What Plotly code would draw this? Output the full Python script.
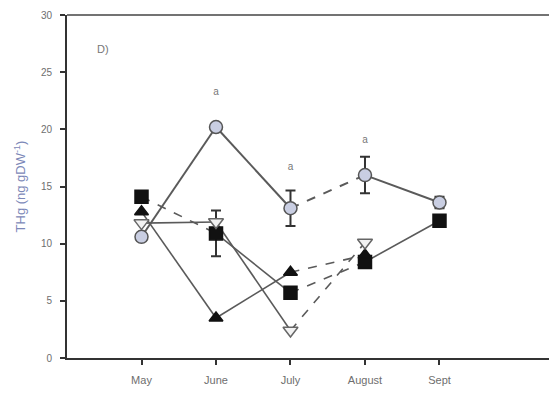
import plotly.graph_objects as go

# Sampling months and mean total mercury per treatment (ng gDW^-1)
months = ["May", "June", "July", "August", "Sept"]
month_pos = [1, 2, 3, 4, 5]

thg_square = [14.1, 10.9, 5.7, 8.4, 12.0]
thg_triangle = [12.8, 3.5, 7.5, 9.0, None]
thg_invtri = [11.8, 11.9, 2.4, 10.1, None]
thg_circle = [10.6, 20.2, 13.1, 16.0, 13.6]

err_square = [0, 2.0, 0, 0, 0]
err_circle = [0, 0, 1.55, 1.6, 0.5]

# Significance letters above the circle series
sig_pos = [2, 3, 4]
sig_y = [23.2, 16.7, 19.0]
sig_text = ["a", "a", "a"]

y_ticks = [0, 5, 10, 15, 20, 25, 30]

LINE = "#5a5a5a"
FONT = "Liberation Sans"

series = [
    dict(y=thg_square, err=err_square, symbol="square", size=13, fill="#111111",
         edge="#111111", dashes=["dash", "solid", "dash", "solid"], lw=1.6),
    dict(y=thg_triangle, err=None, symbol="triangle-up", size=12, fill="#111111",
         edge="#111111", dashes=["solid", "solid", "dash", "solid"], lw=1.6),
    dict(y=thg_invtri, err=None, symbol="triangle-down", size=13, fill="#f2f2f2",
         edge="#666666", dashes=["solid", "solid", "dash", "solid"], lw=1.6),
    dict(y=thg_circle, err=err_circle, symbol="circle", size=13, fill="#c9cee2",
         edge="#555555", dashes=["solid", "solid", "dash", "solid"], lw=2.0),
]

fig = go.Figure()

# Connecting segments (dash style changes between months)
for s in series:
    for i, d in enumerate(s["dashes"]):
        y0, y1 = s["y"][i], s["y"][i + 1]
        if y0 is None or y1 is None:
            continue
        fig.add_trace(go.Scatter(
            x=[month_pos[i], month_pos[i + 1]], y=[y0, y1], mode="lines",
            line=dict(color=LINE, width=s["lw"], dash="dash" if d == "dash" else "solid"),
            showlegend=False, hoverinfo="skip"))

# Markers with error bars
for s in series:
    xs = [p for p, v in zip(month_pos, s["y"]) if v is not None]
    ys = [v for v in s["y"] if v is not None]
    err = None
    if s["err"] is not None:
        ev = [e for e, v in zip(s["err"], s["y"]) if v is not None]
        err = dict(type="data", array=ev, visible=True, color="#333333",
                   thickness=2, width=5)
    fig.add_trace(go.Scatter(
        x=xs, y=ys, mode="markers", error_y=err,
        marker=dict(symbol=s["symbol"], size=s["size"], color=s["fill"],
                    line=dict(color=s["edge"], width=1.5)),
        showlegend=False))

fig.add_trace(go.Scatter(
    x=sig_pos, y=sig_y, mode="text", text=sig_text,
    textfont=dict(family=FONT, size=10, color="#777777"),
    showlegend=False, hoverinfo="skip"))

fig.add_annotation(x=0.058, y=0.925, xref="paper", yref="paper", text="D)",
                   showarrow=False,
                   font=dict(family=FONT, size=11, color="#777777"))

fig.update_layout(
    width=549, height=394,
    margin=dict(l=67, r=0, t=15, b=36),
    paper_bgcolor="white", plot_bgcolor="white",
    font=dict(family=FONT, size=10, color="#666666"),
)

fig.update_xaxes(
    range=[0, 6.47], tickmode="array", tickvals=month_pos, ticktext=months,
    showline=True, linecolor="#333333", linewidth=2, mirror=False,
    ticks="outside", ticklen=5, tickwidth=1.5, tickcolor="#333333",
    showgrid=False, zeroline=False, ticklabelstandoff=6,
    tickfont=dict(family=FONT, size=11, color="#6e6e6e"),
)
fig.update_yaxes(
    range=[0, 30], tickmode="array", tickvals=y_ticks,
    showline=True, linecolor="#333333", linewidth=2,
    ticks="outside", ticklen=5, tickwidth=1.5, tickcolor="#333333",
    showgrid=False, zeroline=False, ticklabelstandoff=6,
    tickfont=dict(family=FONT, size=10, color="#6e6e6e"),
    title=dict(text="THg (ng gDW<sup>-1</sup>)", standoff=12,
               font=dict(family=FONT, size=13, color="#7c88b8")),
)

# Thin frame line along the top of the plotting area
fig.add_shape(type="line", xref="paper", yref="paper", x0=0, x1=1, y0=1, y1=1,
              line=dict(color="#444444", width=1.5))

fig.write_html("out.html")
